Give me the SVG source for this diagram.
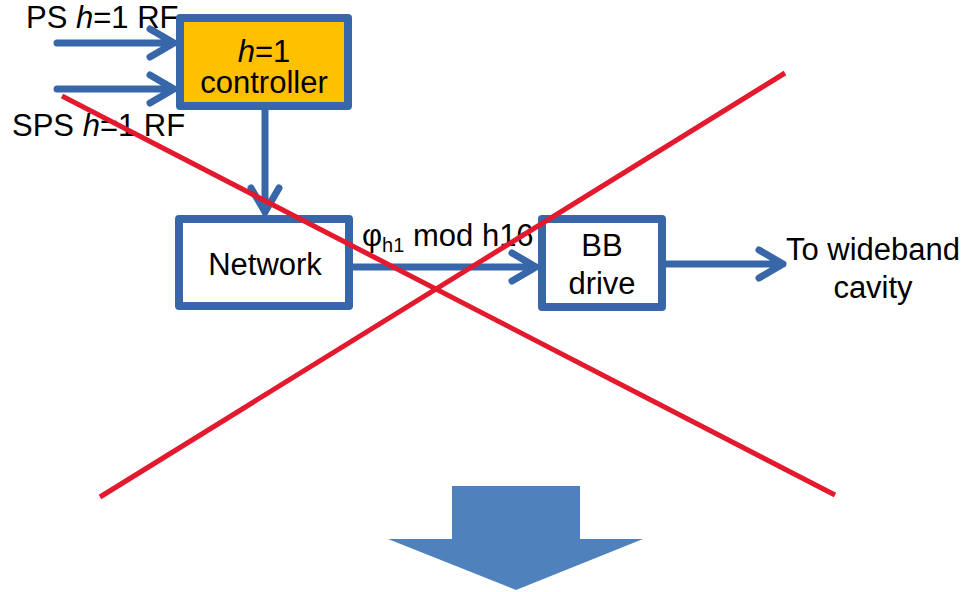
<svg xmlns="http://www.w3.org/2000/svg" width="967" height="592" viewBox="0 0 967 592">
<style>
.box{stroke:#3767A8;stroke-width:8;stroke-linejoin:round}
.t{font-family:"Liberation Sans",Arial,sans-serif;font-size:31px;fill:#000}
.c{stroke:#3767A8;stroke-width:7;fill:none;stroke-linecap:round;stroke-linejoin:round}
.x{stroke:#E3192D;stroke-width:5;fill:none}
</style>
<rect width="967" height="592" fill="#fff"/>
<g id="connectors">
<path class="c" d="M57 43H174M150 29L174 43L150 57"/>
<path class="c" d="M57 89H174M150 75L174 89L150 103"/>
<path class="c" d="M265 110V212M251 188L265 212L279 188"/>
<path class="c" d="M353 267H536M512 253L536 267L512 281"/>
<path class="c" d="M666 264H783M759 250L783 264L759 278"/>
</g>
<g id="ps-label"><text class="t" x="26" y="28">PS <tspan font-style="italic">h</tspan>=1 RF</text></g>
<g id="sps-label"><text class="t" x="12" y="136">SPS <tspan font-style="italic">h</tspan>=1 RF</text></g>
<g id="controller">
<rect class="box" x="180" y="18" width="168" height="88" fill="#FFC000"/>
<text class="t" x="264" y="62" text-anchor="middle"><tspan font-style="italic">h</tspan>=1</text>
<text class="t" x="264" y="93" text-anchor="middle">controller</text>
</g>
<g id="network">
<rect class="box" x="179" y="219" width="170" height="87" fill="#fff"/>
<text class="t" x="265" y="275" text-anchor="middle">Network</text>
</g>
<g id="phase-label"><text class="t" x="362" y="246">φ<tspan font-size="20" dy="6">h1</tspan><tspan dy="-6"> mod h16</tspan></text></g>
<g id="bb-drive">
<rect class="box" x="542" y="219" width="120" height="88" fill="#fff"/>
<text class="t" x="602" y="256" text-anchor="middle">BB</text>
<text class="t" x="602" y="294" text-anchor="middle">drive</text>
</g>
<g id="wideband-label">
<text class="t" x="873" y="260" text-anchor="middle">To wideband</text>
<text class="t" x="873" y="298" text-anchor="middle">cavity</text>
</g>
<g id="cross">
<line class="x" x1="62" y1="96" x2="835" y2="495"/>
<line class="x" x1="100" y1="497" x2="785" y2="73"/>
</g>
<g id="down-arrow">
<polygon points="452,486 580,486 580,539 643,539 516,590 388,539 452,539" fill="#4F81BD"/>
</g>
</svg>
